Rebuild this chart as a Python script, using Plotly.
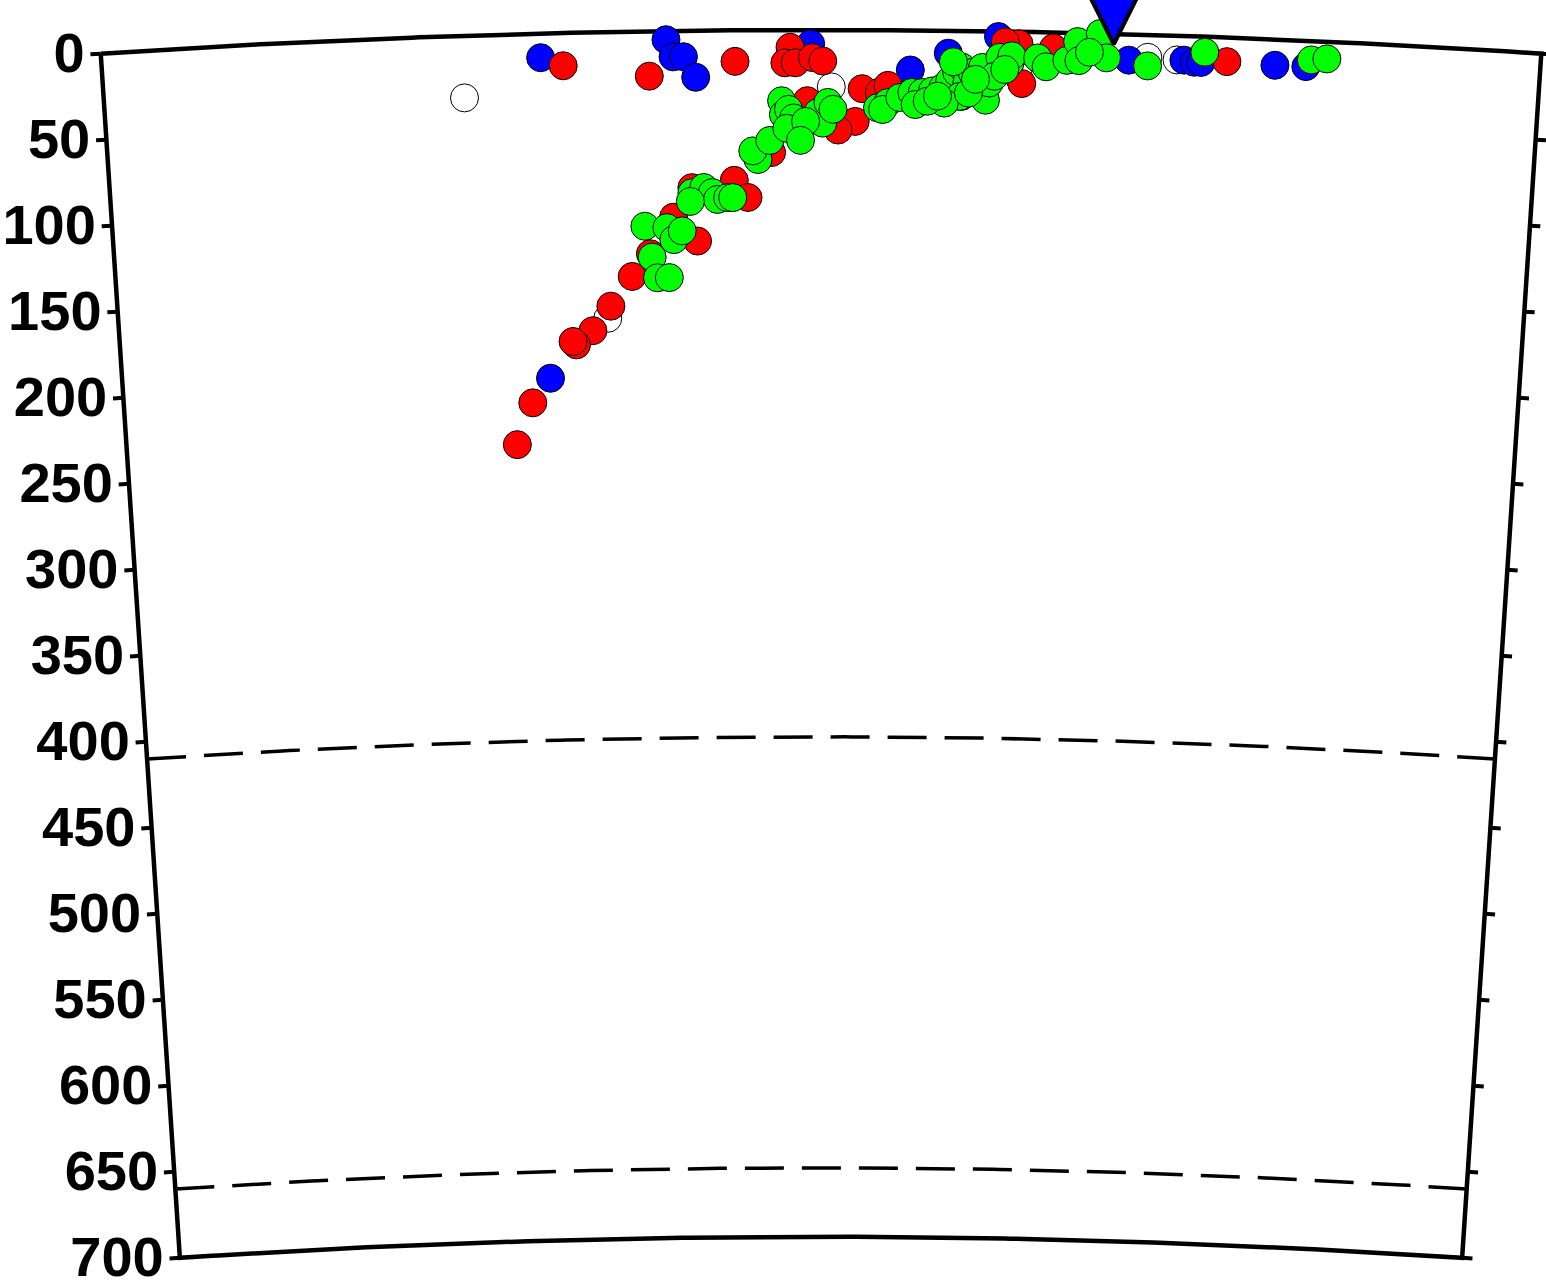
import numpy as np
import plotly.graph_objects as go

# ---------------- data (distance along profile [km], depth [km]) ----------------
EARTH_R = 6371.0
HALF_ANGLE_DEG = 3.76
DEPTH_MAX = 700
tick_depths = list(range(0, 701, 50))
tick_labels = [str(d) for d in tick_depths]
discontinuity_depths = [410, 660]

station_dist = [170]
station_depth = [6]

white_dist = [-208, 6, -127, 190, 207, 115]
white_depth = [36, 33, 166, 13, 14, 26]

blue_dist = [-163, -90, -86, -80, -73, -6, -162, 52, 74, 103, 179, 211, 217, 221, 264, 282]
blue_depth = [14, 5, 15, 15, 27, 8, 200, 23, 13, 3, 15, 14, 15, 15, 15, 15]

red_dist = [-150, -100, -50, -18, -21, -15, -5, 1, -8, 24, 34, 20, 10, -29, -51, -43,
            -76, -87, -73, -101, -112, -125, -136, -146, -148, -173, -183, 82, 115, 135,
            117, 236, 107, 39]
red_depth = [19, 26, 18, 10, 19, 19, 16, 18, 41, 34, 36, 53, 58, 71, 87, 97,
             91, 108, 122, 129, 142, 159, 173, 181, 179, 214, 238, 38, 7, 9,
             30, 14, 6, 32]

green_dist = [-37, -104, -91, -87, -82, -100, -97, -90, -76, -69, -64, -61, -55, -52, -77,
              -40, -30, -23, -22, -19, -16, -14, -12, -2, 1, 4, 7, 33, 39, -20, -9, -12,
              36, 46, 53, 59, 65, 71, 75, 79, 82, 85, 88, 92, 94, 96, 98, 104, 110, 111,
              126, 131, 143, 149, 150, 162, 166, 190, 223, 285, 294, 156, 77, 81, 72, 55,
              62, 86, 101, 68, 90, 107]
green_depth = [75, 113, 114, 121, 116, 131, 143, 143, 94, 91, 94, 98, 97, 97, 99,
               70, 64, 41, 49, 46, 51, 60, 57, 48, 54, 42, 46, 45, 42, 57, 53, 64,
               46, 39, 36, 36, 35, 33, 29, 24, 21, 30, 24, 34, 21, 40, 30, 15, 18, 14,
               15, 20, 16, 5, 16, 0, 14, 18, 9, 11, 10, 11, 18, 38, 42, 43,
               41, 36, 26, 38, 28, 22]

# ---------------- projection helpers ----------------
PX_PER_KM = 1.724
W, H = 1546, 1282
CX, TOP = 821, 30
ALPHA = np.deg2rad(HALF_ANGLE_DEG)
TICK_KM = 6.0
LABEL_GAP_KM = 3.5
LABEL_DROP_KM = 1.8


def polar_xy(theta, depth):
    theta = np.asarray(theta, float)
    r = EARTH_R - np.asarray(depth, float)
    return r * np.sin(theta), r * np.cos(theta) - EARTH_R


def profile_xy(dist, depth):
    return polar_xy(np.asarray(dist, float) / EARTH_R, depth)


fig = go.Figure()

# frame
th = np.linspace(-ALPHA, ALPHA, 200)
xt, yt = polar_xy(th, np.zeros_like(th))
xb, yb = polar_xy(th[::-1], np.full_like(th, DEPTH_MAX))
fx = np.concatenate([xt, xb, xt[:1]])
fy = np.concatenate([yt, yb, yt[:1]])
fig.add_trace(go.Scatter(x=fx, y=fy, mode="lines",
                         line=dict(color="black", width=4.5), hoverinfo="skip"))

# discontinuities
for d in discontinuity_depths:
    x, y = polar_xy(th, np.full_like(th, d))
    fig.add_trace(go.Scatter(x=x, y=y, mode="lines",
                             line=dict(color="black", width=3.5, dash="39px,18px"),
                             hoverinfo="skip"))

# ticks on both edges (pointing outward)
tx, ty = [], []
for d in tick_depths:
    dth = TICK_KM / (EARTH_R - d)
    for sgn in (-1, 1):
        x, y = polar_xy([sgn * ALPHA, sgn * (ALPHA + dth)], [d, d])
        tx += list(x) + [None]
        ty += list(y) + [None]
fig.add_trace(go.Scatter(x=tx, y=ty, mode="lines",
                         line=dict(color="black", width=4), hoverinfo="skip"))

# depth labels
lab_th = [-(ALPHA + (TICK_KM + LABEL_GAP_KM) / (EARTH_R - d)) for d in tick_depths]
lx, ly = polar_xy(lab_th, [d + LABEL_DROP_KM for d in tick_depths])
fig.add_trace(go.Scatter(x=lx, y=ly, mode="text", text=tick_labels,
                         textposition="middle left",
                         textfont=dict(family="Liberation Sans, Arial, sans-serif",
                                       size=56, color="black", weight="bold"),
                         hoverinfo="skip", cliponaxis=False))

# events
for dist, dep, col in [(white_dist, white_depth, "#ffffff"),
                       (blue_dist, blue_depth, "#0000ff"),
                       (red_dist, red_depth, "#ff0000"),
                       (green_dist, green_depth, "#00ff00")]:
    x, y = profile_xy(dist, dep)
    fig.add_trace(go.Scatter(x=x, y=y, mode="markers", cliponaxis=False,
                             marker=dict(size=28, color=col,
                                         line=dict(color="black", width=1))))

# station
sx, sy = profile_xy(station_dist, station_depth)
fig.add_trace(go.Scatter(x=sx, y=sy, mode="markers", cliponaxis=False,
                         marker=dict(symbol="arrow-down", size=50, color="#0000ff",
                                     line=dict(color="black", width=4))))

fig.update_layout(
    width=W, height=H, autosize=False,
    margin=dict(l=0, r=0, t=0, b=0, pad=0),
    paper_bgcolor="white", plot_bgcolor="white",
    showlegend=False,
    xaxis=dict(range=[-CX / PX_PER_KM, (W - CX) / PX_PER_KM], visible=False,
               fixedrange=True),
    yaxis=dict(range=[-(H - TOP) / PX_PER_KM, TOP / PX_PER_KM], visible=False,
               fixedrange=True),
)

fig.write_html("out.html", config={"displayModeBar": False},
               post_script="document.body.style.margin='0px';document.body.style.overflow='hidden';")
